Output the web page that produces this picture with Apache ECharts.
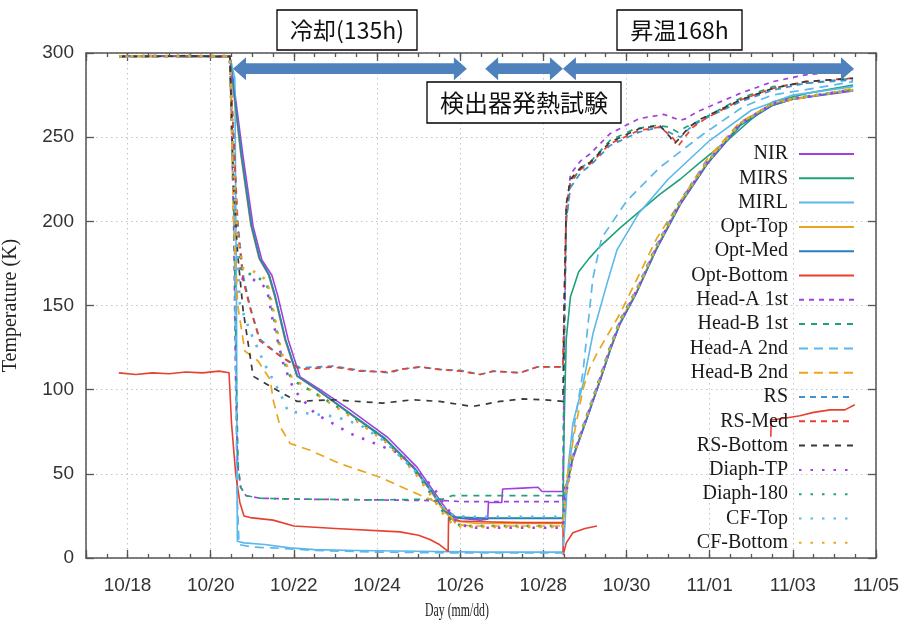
<!DOCTYPE html>
<html>
<head>
<meta charset="utf-8">
<script src="https://cdn.jsdelivr.net/npm/echarts/dist/echarts.min.js"></script>
<style>
  html, body { margin: 0; padding: 0; background: #fff; }
  #chart { width: 902px; height: 630px; }
</style>
</head>
<body>
<div id="chart"></div>
<script>
// x: days elapsed since 10/17 00:00, y: temperature [K]
const dayTickLabels = ['10/18', '10/20', '10/22', '10/24', '10/26', '10/28', '10/30', '11/01', '11/03', '11/05'];
const tempTicks = [0, 50, 100, 150, 200, 250, 300];

// test periods: [start day, duration in hours]
const coolingPeriod = [3.535, 135];
const heatTestPeriod = [9.60, 11.47];
const warmupPeriod = [11.47, 168];

const nir = [[0.80,298],[1.6,298.5],[2.4,297.8],[3.2,298.4],[3.46,298],[3.54,284],[3.78,238],[4.02,197],[4.23,177],[4.47,168],[4.62,155],[4.86,130],[5.15,107.5],[5.63,100],[6.35,88],[7.24,72],[7.96,54],[8.35,40],[8.68,28.5],[8.92,23.8],[9.48,22.5],[9.66,23],[9.68,33],[10.0,33],[10.02,41],[10.5,41.5],[10.87,42],[10.97,39.5],[11.47,39.5],[11.57,45],[11.71,59],[12.05,83],[12.36,105],[12.60,123],[12.84,139],[13.25,158],[13.73,184],[14.29,210],[14.94,234],[15.73,257],[16.52,269],[17.0,272.5],[18.45,277.5]];
const mirs = [[0.80,298],[1.6,298.2],[2.4,298],[3.2,298.3],[3.46,298],[3.52,285],[3.74,240],[3.98,198],[4.18,178],[4.41,168],[4.56,155],[4.80,130],[5.09,108],[5.57,100],[6.30,87],[7.20,71],[7.92,53],[8.31,40],[8.63,28],[8.86,24.5],[9.5,23.8],[11.47,23.8],[11.50,80],[11.55,130],[11.65,155],[11.85,170],[12.1,178],[12.36,185],[12.84,196],[13.32,206],[13.8,216],[14.29,225],[14.77,235],[15.42,248],[15.97,260],[16.52,271],[17.34,276],[18.45,281]];
const mirl = [[0.80,298],[1.6,297.9],[2.4,298.3],[3.2,298],[3.46,298],[3.58,285],[3.62,150],[3.64,10],[3.8,9],[4.3,8],[4.9,6],[5.5,5],[6.5,4.5],[8.0,4],[9.5,3.5],[11.47,3.5],[11.52,20],[11.60,55],[11.71,80],[11.96,104],[12.2,134],[12.53,163],[12.77,183],[13.3,205],[14.0,225],[15.0,248],[16.0,266],[17.0,275],[18.45,280]];
const optTop = [[0.80,298],[1.6,297.8],[2.4,298.3],[3.2,298],[3.46,298],[3.51,285],[3.72,240],[3.96,198],[4.16,178],[4.39,168],[4.54,155],[4.78,130],[5.07,108],[5.55,100],[6.27,87],[7.17,71],[7.89,53],[8.28,40],[8.60,28],[8.85,22],[9.4,20.5],[11.47,20.5],[11.52,35],[11.71,60],[12.05,84],[12.36,106],[12.6,124],[12.84,140],[13.25,159],[13.73,185],[14.29,211],[14.94,235],[15.73,258],[16.52,270],[17.0,273],[18.45,278]];
const optMed = [[0.80,298],[1.6,298.4],[2.4,298],[3.2,297.8],[3.46,298],[3.52,285],[3.73,240],[3.97,198],[4.17,178],[4.40,168],[4.55,155],[4.79,130],[5.08,108],[5.56,100],[6.28,87],[7.18,71],[7.90,53],[8.30,40],[8.62,28],[8.86,24],[9.5,23.5],[11.47,23.5],[11.52,38],[11.71,60],[12.05,83],[12.36,105],[12.6,123],[12.84,139],[13.25,158],[13.73,184],[14.29,210],[14.94,234],[15.73,257],[16.52,269],[17.0,272.5],[18.45,278]];
const optBottom = [[0.79,110],[1.2,109],[1.6,110],[2.0,109.5],[2.4,110.5],[2.8,110],[3.2,111],[3.44,110],[3.50,80],[3.60,50],[3.70,33],[3.80,25],[3.95,24],[4.5,22.5],[5.0,19],[6.0,17.5],[7.55,15.5],[8.0,13.5],[8.27,11],[8.5,8],[8.71,4],[8.72,24],[9.0,22],[9.5,21.5],[10.5,21],[11.47,21],[11.48,2],[11.55,9],[11.71,15],[12.0,17.5],[12.29,19],[12.5,null],[16.47,72],[16.48,82],[16.8,83],[17.17,84.5],[17.5,86.5],[17.9,88],[18.25,88],[18.49,91]];
const headA1 = [[0.80,298],[1.6,298.3],[2.4,297.9],[3.2,298.2],[3.46,298],[3.55,200],[3.60,100],[3.65,55],[3.72,42],[3.85,37],[4.2,35.5],[5.0,35],[7.0,34.5],[8.7,34],[9.0,33.5],[11.47,33.5],[11.50,120],[11.55,205],[11.65,228],[11.9,236],[12.12,240],[12.6,252],[13.3,261],[13.9,263.5],[14.29,260],[14.43,261],[14.69,265],[15.73,276],[16.52,283],[17.3,287],[18.45,290]];
const headB1 = [[0.80,298],[1.6,298],[2.4,298.4],[3.2,298],[3.46,298],[3.56,200],[3.62,100],[3.66,55],[3.72,42],[3.85,37],[4.2,35.5],[5.0,35],[7.0,34.5],[8.6,35],[8.8,37],[11.47,37],[11.50,120],[11.55,200],[11.65,222],[11.9,232],[12.12,235],[12.6,248],[13.2,255],[13.73,257],[14.03,256],[14.23,253],[14.43,256],[14.69,259],[15.73,273],[16.52,280],[18.45,285]];
const headA2 = [[0.80,298],[1.6,298.1],[2.4,297.9],[3.2,298.2],[3.46,298],[3.56,220],[3.60,120],[3.63,40],[3.68,8],[4.0,6.5],[4.5,6],[5.5,4.5],[7.0,3.5],[9.0,3],[11.47,3],[11.55,40],[11.75,80],[11.95,110],[12.19,166],[12.4,190],[13.0,212],[13.8,232],[14.8,251],[15.8,268],[16.5,275],[17.5,279],[18.45,283]];
const headB2 = [[0.80,298],[1.6,298.3],[2.4,298],[3.2,297.8],[3.46,298],[3.55,200],[3.65,150],[3.82,123],[4.14,117],[4.43,106],[4.50,94],[4.67,78],[4.91,68],[5.39,64],[6.11,56],[7.07,48],[7.79,40],[8.35,34],[8.68,28],[8.9,20],[9.3,19],[11.47,19],[11.55,45],[11.75,75],[11.95,100],[12.1,112],[12.3,122],[12.84,145],[13.73,190],[14.94,237],[15.73,259],[16.52,270],[18.45,279]];
const rs = [[0.80,298],[1.6,297.9],[2.4,298.2],[3.2,298],[3.46,298],[3.55,250],[3.65,200],[3.78,168],[3.94,150],[4.18,130],[4.67,120],[5.15,113],[5.94,114],[6.6,111.5],[7.31,110],[7.55,112],[8.03,113.5],[8.5,112],[9.0,111.5],[9.48,109],[9.8,111],[10.44,110],[10.85,113.5],[11.47,113.5],[11.50,140],[11.55,200],[11.65,220],[11.9,229],[12.12,233],[12.6,245],[13.3,253],[13.8,256],[14.1,252],[14.3,250],[14.5,255],[14.8,260],[15.73,271],[16.52,278],[17.3,282],[18.45,284]];
const rsMed = [[0.80,298],[1.6,298.2],[2.4,298],[3.2,298.3],[3.46,298],[3.55,250],[3.65,195],[3.78,165],[3.94,149],[4.18,129],[4.67,120],[5.15,112],[5.94,113.5],[6.6,111],[7.31,110.5],[7.55,112],[8.03,113.5],[8.5,112],[9.0,111],[9.48,109],[9.8,111],[10.44,110],[10.85,113.5],[11.47,113.5],[11.50,150],[11.55,208],[11.65,224],[11.9,231],[12.12,234],[12.6,246],[13.3,254],[13.8,256],[14.1,250],[14.25,245],[14.4,250],[14.6,256],[14.9,261],[15.73,272],[16.52,279],[17.3,283],[18.45,285]];
const rsBottom = [[0.80,298],[1.6,298],[2.4,298.3],[3.2,297.9],[3.46,298],[3.55,220],[3.65,180],[3.78,147],[4.02,108],[4.43,102],[5.08,93],[5.94,94],[7.14,92],[7.86,94],[8.5,93],[9.3,90],[9.95,93],[10.5,94.5],[11.0,94],[11.47,93],[11.50,150],[11.55,210],[11.65,225],[11.9,232],[12.12,235],[12.6,247],[13.3,255],[13.8,257],[14.05,250],[14.15,246],[14.3,250],[14.5,256],[14.8,261],[15.73,272],[16.52,279],[17.3,283],[18.45,285]];
const diaphTP = [[0.80,298],[1.6,298.2],[2.4,297.9],[3.2,298.3],[3.46,298],[3.55,230],[3.65,180],[3.73,166],[4.1,165],[4.35,160],[4.5,140],[4.75,115],[5.0,100],[5.5,86],[6.35,74],[7.55,62],[8.35,42],[8.68,30],[8.9,22],[9.2,18],[11.47,18],[11.52,35],[11.71,60],[12.05,84],[12.36,106],[12.6,124],[12.84,140],[13.25,159],[13.73,185],[14.29,211],[14.94,235],[15.73,258],[16.52,270],[17.0,273],[18.45,278]];
const diaph180 = [[0.80,298],[1.6,298],[2.4,298.4],[3.2,297.9],[3.46,298],[3.55,230],[3.65,185],[3.75,170],[4.05,168],[4.35,163],[4.5,145],[4.7,120],[4.95,106],[5.5,98],[6.3,86],[7.2,70],[7.9,52],[8.3,38],[8.6,27],[8.85,20],[9.2,19],[11.47,19],[11.52,36],[11.71,61],[12.05,85],[12.36,107],[12.6,125],[12.84,141],[13.25,160],[13.73,186],[14.29,212],[14.94,235],[15.73,258],[16.52,270],[17.0,273],[18.45,278]];
const cfTop = [[0.80,298],[1.6,298.2],[2.4,297.8],[3.2,298.3],[3.46,298],[3.55,230],[3.65,175],[3.70,151],[3.94,135],[4.3,115],[4.67,98],[4.86,87],[5.3,86],[6.0,84],[6.6,79],[7.2,69],[7.9,52],[8.3,40],[8.6,30],[8.85,25],[9.2,24.5],[11.47,24.5],[11.52,37],[11.71,61],[12.05,85],[12.36,107],[12.6,125],[12.84,141],[13.25,160],[13.73,186],[14.29,212],[14.94,236],[15.73,258],[16.52,270],[17.0,273],[18.45,278]];
const cfBottom = [[0.80,298],[1.6,297.9],[2.4,298.2],[3.2,298],[3.46,298],[3.55,235],[3.65,190],[3.78,172],[4.05,170],[4.35,165],[4.5,148],[4.7,122],[4.95,107],[5.5,98],[6.3,85],[7.2,69],[7.9,51],[8.3,37],[8.6,26],[8.85,19],[9.2,18.5],[11.47,18.5],[11.52,35],[11.71,60],[12.05,84],[12.36,106],[12.6,124],[12.84,140],[13.25,159],[13.73,185],[14.29,211],[14.94,235],[15.73,258],[16.52,270],[17.0,273],[18.45,278]];

const seriesNames = ['NIR', 'MIRS', 'MIRL', 'Opt-Top', 'Opt-Med', 'Opt-Bottom',
  'Head-A 1st', 'Head-B 1st', 'Head-A 2nd', 'Head-B 2nd', 'RS', 'RS-Med', 'RS-Bottom',
  'Diaph-TP', 'Diaph-180', 'CF-Top', 'CF-Bottom'];
const seriesData = [nir, mirs, mirl, optTop, optMed, optBottom,
  headA1, headB1, headA2, headB2, rs, rsMed, rsBottom,
  diaphTP, diaph180, cfTop, cfBottom];

// gnuplot-like palette and dash styles
const PURPLE = '#a040e0', GREEN = '#1fa27a', LBLUE = '#5ab8ea', ORANGE = '#eaa620',
      BLUE = '#2a7fbf', RED = '#e8402f', BLACK = '#3a3a3a', RSBLUE = '#3d93d3';
const styles = [
  [PURPLE, 'solid', 1.6], [GREEN, 'solid', 1.6], [LBLUE, 'solid', 1.6],
  [ORANGE, 'solid', 1.6], [BLUE, 'solid', 1.6], [RED, 'solid', 1.6],
  [PURPLE, [5, 5], 1.7], [GREEN, [6, 6], 1.7], [LBLUE, [9, 6], 1.7], [ORANGE, [9, 6], 1.7],
  [RSBLUE, [6, 5], 1.7], [RED, [6, 5], 1.7], [BLACK, [6, 6], 1.7],
  [PURPLE, [2.5, 9], 2.6], [GREEN, [2.5, 9], 2.6], [LBLUE, [2.5, 9], 2.6], [ORANGE, [2.5, 9], 2.6]
];

const chart = echarts.init(document.getElementById('chart'), null, { renderer: 'canvas' });

const AXIS_COLOR = '#555';
const tickFont = { fontFamily: 'Liberation Sans', fontSize: 19, color: '#333' };
const gridLine = { show: true, lineStyle: { color: '#c4c4c4', width: 1, type: [1.5, 3.5] } };

const lineSeries = seriesNames.map((name, i) => ({
  name: name,
  type: 'line',
  xAxisIndex: 0,
  yAxisIndex: 0,
  data: seriesData[i],
  symbol: 'none',
  showSymbol: false,
  connectNulls: false,
  animation: false,
  silent: true,
  lineStyle: { color: styles[i][0], type: styles[i][1], width: styles[i][2], cap: 'butt', join: 'round' },
  itemStyle: { color: styles[i][0] },
  z: 2
}));

// period arrows (double-headed)
const periodSpans = [
  [coolingPeriod[0], coolingPeriod[0] + coolingPeriod[1] / 24],
  [heatTestPeriod[0], heatTestPeriod[1]],
  [warmupPeriod[0], warmupPeriod[0] + warmupPeriod[1] / 24]
];
const ARROW_LEVEL = 290.7;
const arrowSeries = {
  type: 'custom',
  xAxisIndex: 0,
  yAxisIndex: 0,
  data: periodSpans,
  silent: true,
  animation: false,
  z: 5,
  renderItem: function (params, api) {
    const a = api.coord([api.value(0), ARROW_LEVEL]);
    const b = api.coord([api.value(1), ARROW_LEVEL]);
    const y = a[1], hl = 13, hw = 11.5, sw = 5.4;
    return {
      type: 'polygon',
      shape: { points: [
        [a[0], y], [a[0] + hl, y - hw], [a[0] + hl, y - sw], [b[0] - hl, y - sw],
        [b[0] - hl, y - hw], [b[0], y], [b[0] - hl, y + hw], [b[0] - hl, y + sw],
        [a[0] + hl, y + sw], [a[0] + hl, y + hw]
      ] },
      style: { fill: '#4f81bd' }
    };
  }
};

const nDays = 19;
const majorLabel = function (v) {
  const k = Math.round(v);
  if (k % 2 !== 0 || k > 18) return '';
  return dayTickLabels[dayTickLabels.length - 1 - k / 2];
};

function minorAxis(position) {
  return {
    type: 'value', position: position, min: 0, max: nDays, interval: 0.5,
    axisLine: { show: true, onZero: false, lineStyle: { color: AXIS_COLOR, width: 1.5 } },
    axisTick: { show: true, inside: true, length: 4, lineStyle: { color: AXIS_COLOR, width: 1.3 } },
    axisLabel: { show: false },
    splitLine: { show: false }
  };
}
function majorAxis(position, withLabels) {
  // counted backwards from 11/05 so that major ticks fall on 10/18, 10/20, ...
  return {
    type: 'value', position: position, inverse: true, min: 0, max: nDays, interval: 2,
    axisLine: { show: false, onZero: false },
    axisTick: { show: true, inside: true, length: 8, lineStyle: { color: AXIS_COLOR, width: 1.3 } },
    axisLabel: withLabels ? Object.assign({ show: true, margin: 18, formatter: majorLabel, showMinLabel: true, showMaxLabel: true }, tickFont) : { show: false },
    splitLine: withLabels ? gridLine : { show: false }
  };
}

chart.setOption({
  backgroundColor: '#ffffff',
  animation: false,
  grid: { left: 86, right: 26, top: 53, bottom: 72, containLabel: false, outerBoundsMode: 'none' },
  legend: {
    data: seriesNames,
    orient: 'vertical',
    right: 47,
    top: 144,
    align: 'right',
    itemWidth: 55,
    itemHeight: 14,
    itemGap: 4.3,
    padding: 0,
    selectedMode: false,
    itemStyle: { opacity: 0 },
    textStyle: { fontFamily: 'Liberation Serif', fontSize: 20, color: '#1a1a1a', padding: [0, 6, 0, 0] }
  },
  xAxis: [minorAxis('bottom'), majorAxis('bottom', true), minorAxis('top'), majorAxis('top', false)],
  yAxis: [
    {
      type: 'value', position: 'left', min: tempTicks[0], max: tempTicks[tempTicks.length - 1], interval: 50,
      name: 'Temperature (K)', nameLocation: 'middle', nameRotate: 90, nameGap: 65,
      nameTextStyle: { fontFamily: 'Liberation Serif', fontSize: 20, color: '#222' },
      axisLine: { show: true, onZero: false, lineStyle: { color: AXIS_COLOR, width: 1.5 } },
      axisTick: { show: true, inside: true, length: 8, lineStyle: { color: AXIS_COLOR, width: 1.3 } },
      axisLabel: Object.assign({ margin: 12 }, tickFont),
      splitLine: gridLine
    },
    {
      type: 'value', position: 'right', min: tempTicks[0], max: tempTicks[tempTicks.length - 1], interval: 50,
      axisLine: { show: true, onZero: false, lineStyle: { color: AXIS_COLOR, width: 1.5 } },
      axisTick: { show: true, inside: true, length: 8, lineStyle: { color: AXIS_COLOR, width: 1.3 } },
      axisLabel: { show: false },
      splitLine: { show: false }
    }
  ],
  series: lineSeries.concat([arrowSeries]),
  graphic: [
    { type: 'text', x: 457, y: 611, scaleX: 0.62, style: { text: 'Day (mm/dd)', font: '19px "Liberation Serif"', fill: '#222', align: 'center', verticalAlign: 'middle' } },
    { type: 'rect', shape: { x: 277, y: 10, width: 140, height: 40 }, style: { fill: '#fff', stroke: '#000', lineWidth: 1.3 }, z: 20 },
    { type: 'text', x: 347, y: 30, style: { text: '冷却(135h)', font: '23px "Noto Sans CJK JP"', fill: '#111', align: 'center', verticalAlign: 'middle' }, z: 21 },
    { type: 'rect', shape: { x: 427, y: 82, width: 194, height: 41 }, style: { fill: '#fff', stroke: '#000', lineWidth: 1.3 }, z: 20 },
    { type: 'text', x: 524, y: 102.5, style: { text: '検出器発熱試験', font: '24px "Noto Sans CJK JP"', fill: '#111', align: 'center', verticalAlign: 'middle' }, z: 21 },
    { type: 'rect', shape: { x: 617, y: 10, width: 125, height: 40 }, style: { fill: '#fff', stroke: '#000', lineWidth: 1.3 }, z: 20 },
    { type: 'text', x: 679.5, y: 30, style: { text: '昇温168h', font: '23px "Noto Sans CJK JP"', fill: '#111', align: 'center', verticalAlign: 'middle' }, z: 21 }
  ]
});
</script>
</body>
</html>
